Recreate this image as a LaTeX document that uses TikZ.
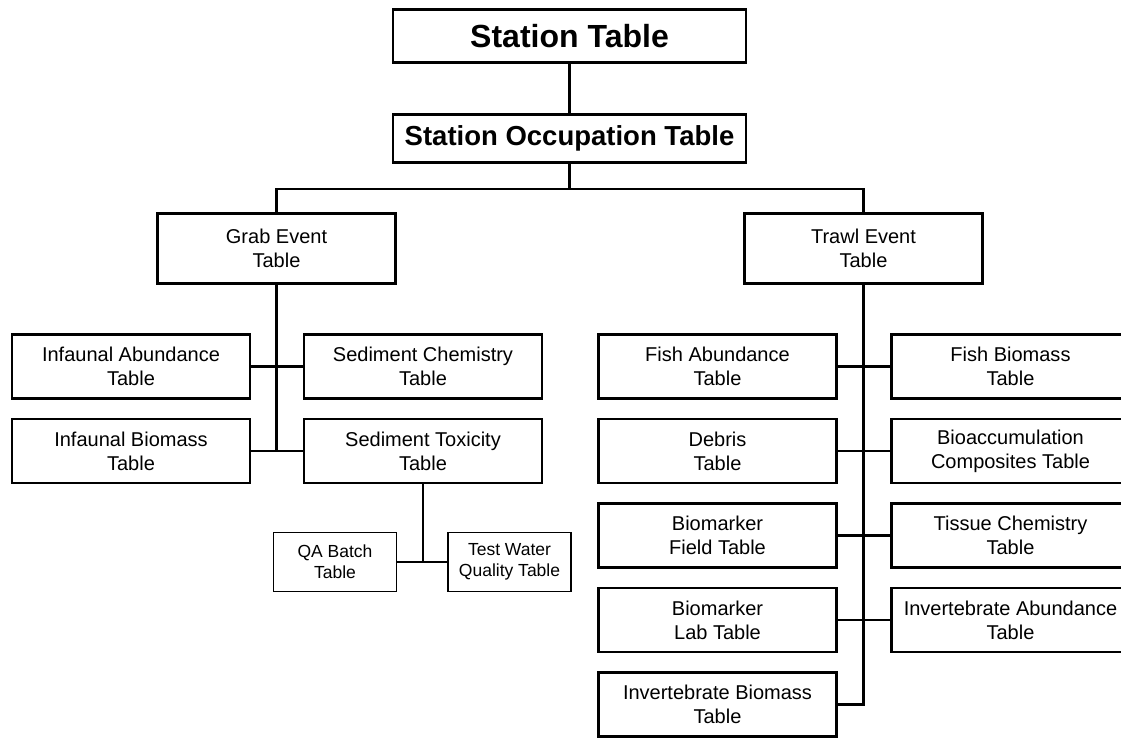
\documentclass[tikz,border=0pt]{standalone}
\usepackage{fontspec}
\setmainfont{Liberation Sans}
\tikzset{
	tbl/.style={draw, line width=2.6pt, minimum width=238pt, minimum height=64pt, inner sep=0pt, align=center, font=\fontsize{20}{24}\selectfont},
	tblhead/.style={tbl, minimum width=353pt, font=\bfseries\fontsize{32}{36}\selectfont},
	tblsmall/.style={draw, line width=1.4pt, minimum width=123pt, minimum height=59pt, inner sep=0pt, align=center, font=\fontsize{17.5}{21}\selectfont},
	link/.style={line width=2.8pt}
}

\begin{document}
\begin{tikzpicture}[x=1pt, y=-1pt]
			%%%%% START %%%%%
			
			\useasboundingbox (0, 0) rectangle (1121, 737);
			\clip (0, 0) rectangle (1121, 737);
			
			\node[tblhead, minimum height=53pt] (station) at (569.5, 36) {Station Table};
			\node[tblhead, minimum height=48pt, font=\bfseries\fontsize{27.5}{32}\selectfont] (occupation) at (569.5, 138.5) {Station Occupation Table};
			
			\node[tbl, minimum height=70pt] (grab) at (276.5, 248.5) {Grab Event\\Table};
			\node[tbl, minimum height=70pt] (trawl) at (863.5, 248.5) {Trawl Event\\Table};
			
			\node[tbl] (infab) at (131, 366.5) {Infaunal Abundance\\Table};
			\node[tbl] (infbio) at (131, 451) {Infaunal Biomass\\Table};
			\node[tbl] (sedchem) at (423, 366.5) {Sediment Chemistry\\Table};
			\node[tbl] (sedtox) at (423, 451) {Sediment Toxicity\\Table};
			
			\node[tblsmall] (qabatch) at (335, 562) {QA Batch\\Table};
			\node[tblsmall] (testwater) at (509.5, 562) {Test Water\\Quality Table};
			
			\node[tbl] (fishab) at (717.5, 366.5) {Fish Abundance\\Table};
			\node[tbl] (debris) at (717.5, 451) {Debris\\Table};
			\node[tbl] (biofield) at (717.5, 535.5) {Biomarker\\Field Table};
			\node[tbl] (biolab) at (717.5, 620) {Biomarker\\Lab Table};
			\node[tbl] (invbio) at (717.5, 704.5) {Invertebrate Biomass\\Table};
			
			\node[tbl] (fishbio) at (1010.5, 366.5) {Fish Biomass\\Table};
			\node[tbl] (bioacc) at (1010.5, 451) {Bioaccumulation\\Composites Table};
			\node[tbl] (tissue) at (1010.5, 535.5) {Tissue Chemistry\\Table};
			\node[tbl] (invab) at (1010.5, 620) {Invertebrate Abundance\\Table};
			
			\draw[link] (station) -- (occupation);
			\coordinate (split) at (569.5, 189);
			\draw[link] (occupation) -- (split);
			\draw[link] (grab.north) |- (split) -| (trawl.north);
			
			\draw[link] (grab) |- (infbio);
			\draw[link] (infab) -- (sedchem);
			\draw[link] (infbio) -- (sedtox);
			\draw[link] (sedtox) |- (qabatch);
			\draw[link] (qabatch) -- (testwater);
			
			\draw[link] (trawl) |- (invbio);
			\draw[link] (fishab) -- (fishbio);
			\draw[link] (debris) -- (bioacc);
			\draw[link] (biofield) -- (tissue);
			\draw[link] (biolab) -- (invab);
			
			%%%%% END %%%%%
		\end{tikzpicture}
\end{document}
